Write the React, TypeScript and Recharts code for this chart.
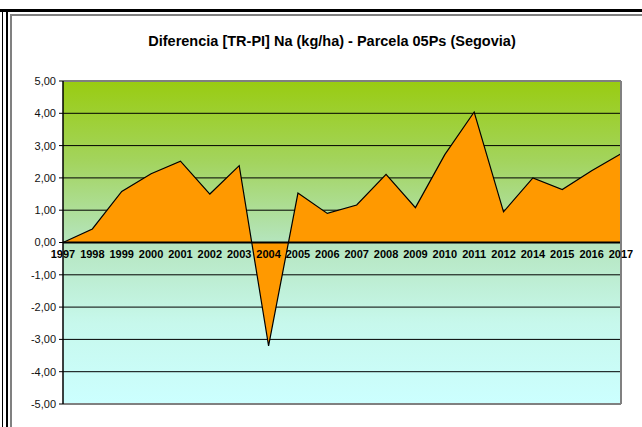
import React from 'react';
import { AreaChart, Area, XAxis, YAxis, CartesianGrid, ReferenceLine } from 'recharts';

const YEARS = ['1997', '1998', '1999', '2000', '2001', '2002', '2003', '2004', '2005', '2006', '2007', '2008', '2009', '2010', '2011', '2012', '2014', '2015', '2016', '2017'];
const DIFF_NA = [0, 0.42, 1.58, 2.13, 2.52, 1.5, 2.38, -3.2, 1.53, 0.9, 1.16, 2.11, 1.08, 2.72, 4.04, 0.95, 2.0, 1.64, 2.22, 2.75];
const Y_TICKS = [-5, -4, -3, -2, -1, 0, 1, 2, 3, 4, 5];

const W = 642;
const H = 427;
const TOP = 81;
const BOTTOM = 404;
const ZERO_Y = (TOP + BOTTOM) / 2;
const FONT = 'Arial, "Liberation Sans", sans-serif';

const data = YEARS.map((year, i) => ({ year, val: DIFF_NA[i] }));

const fmt = (v: number) => v.toFixed(2).replace('.', ',');

// year labels sit just under the zero line, not at the bottom of the plot
const YearTick = ({ x, payload }: any) => (
  <text x={x} y={ZERO_Y + 15} textAnchor="middle" fontFamily={FONT} fontSize={11} fontWeight="bold" fill="#000">
    {payload.value}
  </text>
);

const line = (style: React.CSSProperties) => <div style={{ position: 'absolute', ...style }} />;

export default function App() {
  return (
    <div style={{ position: 'absolute', left: 0, top: 0, width: W, height: H, background: '#fff', overflow: 'hidden' }}>
      {line({ left: 0, top: 9, width: W, height: 3, background: '#000' })}
      {line({ left: 2, top: 12, width: 1, height: H, background: '#000' })}
      {line({ left: 6, top: 9, width: 2, height: H, background: '#000' })}
      {line({ left: 10, top: 14, width: 2, height: H, background: '#808080' })}
      {line({ left: 10, top: 14, width: W, height: 2, background: '#808080' })}
      <div style={{ position: 'absolute', left: 11, top: 33, width: W, textAlign: 'center', fontFamily: FONT, fontSize: 14.5, lineHeight: '17px', fontWeight: 'bold' }}>
        Diferencia [TR-PI] Na (kg/ha) - Parcela 05Ps (Segovia)
      </div>
      <div style={{ position: 'absolute', left: 0, top: 0 }}>
        <AreaChart width={W} height={H} data={data} margin={{ top: TOP, right: 21, bottom: H - BOTTOM - 10, left: 0 }}>
          <defs>
            <linearGradient id="bg" x1="0" y1="0" x2="0" y2="1">
              <stop offset="0%" stopColor="#99CC11" />
              <stop offset="25%" stopColor="#A3D45E" />
              <stop offset="50%" stopColor="#B5E5BE" />
              <stop offset="75%" stopColor="#C7F8EC" />
              <stop offset="100%" stopColor="#CCFFFF" />
            </linearGradient>
          </defs>
          <CartesianGrid vertical={false} stroke="#000" strokeWidth={1} fill="url(#bg)" fillOpacity={1} />
          <XAxis dataKey="year" height={10} axisLine={false} tickLine={false} interval={0} tick={<YearTick />} padding={{ left: 0, right: 0 }} />
          <YAxis
            domain={[-5, 5]}
            ticks={Y_TICKS}
            interval={0}
            width={63}
            tickSize={4}
            tickMargin={3}
            tickFormatter={fmt}
            axisLine={{ stroke: '#000', strokeWidth: 1.5 }}
            tickLine={{ stroke: '#000' }}
            tick={{ fontFamily: FONT, fontSize: 11, fill: '#111' }}
          />
          <Area type="linear" dataKey="val" stroke="#000" strokeWidth={1.2} fill="#FF9900" fillOpacity={1} dot={false} activeDot={false} isAnimationActive={false} />
          <ReferenceLine y={0} stroke="#000" strokeWidth={2} />
          <ReferenceLine y={5} stroke="#808080" strokeWidth={2} />
          <ReferenceLine y={-5} stroke="#808080" strokeWidth={2} />
          <ReferenceLine x="2017" stroke="#808080" strokeWidth={2} />
        </AreaChart>
      </div>
    </div>
  );
}
